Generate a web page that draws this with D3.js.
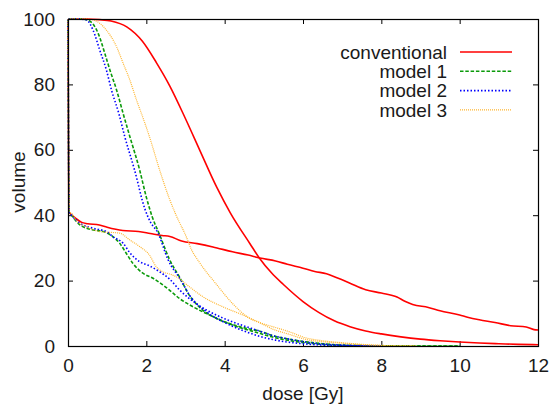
<!DOCTYPE html>
<html>
<head>
<meta charset="utf-8">
<script src="https://cdn.jsdelivr.net/npm/d3@7"></script>
<style>
  html, body { margin: 0; padding: 0; background: #fff; }
  svg { display: block; }
  text { font-family: "Liberation Sans", Arial, Helvetica, sans-serif; fill: #1a1a1a; }
</style>
</head>
<body>
<script>
// ---------- data ----------
const xTicks = [0, 2, 4, 6, 8, 10, 12];
const yTicks = [0, 20, 40, 60, 80, 100];
const seriesNames = ["conventional", "model 1", "model 2", "model 3"];

// conventional: target (upper) and organ-at-risk (lower) DVH curves
const conventionalHigh = [[0,100],[0.5,100],[0.8,99.8],[1.1,99.4],[1.5,97.6],[1.9,93.2],[2.26,86.6],[2.6,79.5],[3.0,69.5],[3.36,60],[3.8,48.5],[4.14,40.8],[4.65,31.2],[4.88,27],[5.2,22.3],[5.5,18.8],[6.0,13.6],[6.4,10.3],[6.8,7.7],[7.2,5.9],[7.6,4.6],[8.0,3.7],[8.5,2.8],[9.0,2.1],[9.5,1.6],[10,1.2],[10.5,0.9],[11,0.7],[11.5,0.5],[12,0.4]];
const conventionalLow = [[0,100],[0.02,41],[0.1,40],[0.2,39],[0.35,37.8],[0.5,37.4],[0.8,37],[1.0,36.3],[1.4,35.3],[1.8,35],[2.1,34.4],[2.4,33.8],[2.6,33.5],[2.9,32.1],[3.3,31.3],[3.7,30.3],[4.2,28.8],[4.6,27.8],[4.9,26.9],[5.3,26],[5.6,25],[6.0,23.8],[6.3,22.8],[6.6,22.1],[6.9,20.7],[7.2,19.2],[7.6,17.2],[8.0,16.2],[8.4,15],[8.6,13.7],[8.8,12.7],[9.2,11.8],[9.5,10.8],[10.0,9.5],[10.2,8.8],[10.5,8.0],[10.9,7.2],[11.3,6.2],[11.7,5.8],[11.9,5],[12,4.9]];

const model1High = [[0,100],[0.3,100],[0.5,99.7],[0.77,95.6],[0.94,89.5],[1.07,84.4],[1.24,78.3],[1.41,71],[1.58,64],[1.83,53.8],[2.0,45.5],[2.15,39.5],[2.34,34],[2.59,26.5],[2.85,21],[3.1,15.5],[3.44,11],[3.78,8.5],[4.2,6.4],[4.8,4.2],[5.2,2.8],[5.9,1.2],[6.5,0.5],[7,0.2],[8,0.05],[9,0],[10,0]];
const model1Low = [[0,100],[0.03,41],[0.09,40],[0.31,37],[0.64,35.5],[0.9,35],[1.15,33.4],[1.32,31.4],[1.49,28.3],[1.66,25.2],[1.92,22.2],[2.17,20.7],[2.42,18.7],[2.59,17.1],[2.85,14.5],[3.19,12],[3.61,9.5],[4.12,6.9],[4.63,5.2],[4.88,4.6],[5.22,3.2],[5.6,2.2],[6.07,1.3],[6.5,0.7],[6.9,0.3],[7.5,0.1],[8,0.05],[10,0]];

const model2High = [[0,100],[0.25,100],[0.47,99.7],[0.64,96.6],[0.81,90.5],[0.98,84.4],[1.11,78.3],[1.3,71],[1.45,64],[1.7,53.8],[1.96,42],[2.1,38],[2.3,34.5],[2.55,26.5],[2.89,20],[3.1,15.6],[3.53,10.5],[4.03,7],[4.63,4],[4.88,3],[5.3,1.8],[5.9,0.8],[6.5,0.3],[7,0.1],[8,0]];
const model2Low = [[0,100],[0.03,41],[0.09,40],[0.31,37.5],[0.64,36],[0.98,35],[1.15,33.4],[1.41,31.4],[1.58,28.5],[1.83,25.8],[2.08,24.5],[2.34,22.7],[2.59,20.5],[2.85,17.1],[3.27,13],[3.78,9.5],[4.29,7],[4.88,4.6],[5.22,3.2],[5.6,2.2],[6.07,1.2],[6.5,0.6],[7,0.3],[7.5,0.1],[8,0]];

const model3High = [[0,100],[0.4,100],[0.64,99.7],[0.98,96.6],[1.24,91.5],[1.41,86.4],[1.58,81.3],[1.75,75.2],[1.92,69.6],[2.08,64],[2.34,53.8],[2.59,45],[2.76,40],[3.02,33.4],[3.14,29.8],[3.36,25.5],[3.78,19],[4.2,13],[4.63,8.5],[4.88,7.2],[5.2,6],[5.64,4.4],[6.07,2.5],[6.5,1.6],[6.92,1.1],[7.5,0.5],[8,0.2],[8.9,0]];
const model3Low = [[0,100],[0.03,41],[0.09,40.6],[0.2,38.5],[0.47,36.5],[0.81,35],[1.32,34.5],[1.58,32.4],[1.83,30.4],[2.08,27.8],[2.25,24.3],[2.42,22.7],[2.6,22],[2.76,21.2],[3.1,18.1],[3.44,15.1],[3.95,12],[4.46,9.5],[4.88,7.2],[5.22,5.2],[5.64,3.6],[6.07,2.0],[6.5,1.3],[6.92,0.9],[7.5,0.4],[8,0.15],[8.9,0]];

// ---------- layout ----------
const W = 553, H = 404;
const margin = { left: 68, right: 15, top: 19, bottom: 58 };
const iw = W - margin.left - margin.right;
const ih = H - margin.top - margin.bottom;

const styles = [
  { color: "#ff0000", width: 1.6, dash: null },
  { color: "#0a9a0a", width: 1.6, dash: "3.5,1.8" },
  { color: "#0000ff", width: 1.6, dash: "1.5,2" },
  { color: "#ffb52e", width: 1.2, dash: "1,1" }
];
const curves = [
  [conventionalHigh, conventionalLow],
  [model1High, model1Low],
  [model2High, model2Low],
  [model3High, model3Low]
];

const svg = d3.select("body").append("svg").attr("width", W).attr("height", H);
const g = svg.append("g").attr("transform", `translate(${margin.left},${margin.top})`);

const x = d3.scaleLinear().domain([0, 12]).range([0, iw]);
const y = d3.scaleLinear().domain([0, 100]).range([ih, 0]);

svg.append("defs").append("clipPath").attr("id", "clip")
  .append("rect").attr("x", -1).attr("y", -1).attr("width", iw + 2).attr("height", ih + 2);

// axes
const fs = 19;
const xAxis = g.append("g").attr("transform", `translate(0,${ih})`)
  .call(d3.axisBottom(x).tickValues(xTicks).tickSize(-5).tickSizeOuter(0).tickPadding(13));
const yAxis = g.append("g")
  .call(d3.axisLeft(y).tickValues(yTicks).tickSize(-5).tickSizeOuter(0).tickPadding(13));
const xTop = g.append("g")
  .call(d3.axisTop(x).tickValues(xTicks).tickSize(-5).tickSizeOuter(0).tickFormat(""));
const yRight = g.append("g").attr("transform", `translate(${iw},0)`)
  .call(d3.axisRight(y).tickValues(yTicks).tickSize(-5).tickSizeOuter(0).tickFormat(""));
[xAxis, yAxis, xTop, yRight].forEach(a => {
  a.select(".domain").remove();
  a.selectAll(".tick line").attr("stroke", "#000").attr("stroke-width", 1);
  a.selectAll("text").style("font-size", fs + "px").attr("fill", "#1a1a1a")
    .style("font-family", '"Liberation Sans", Arial, sans-serif');
});

// curves
const line = d3.line().x(d => x(d[0])).y(d => y(d[1])).curve(d3.curveMonotoneX);
const plot = g.append("g").attr("clip-path", "url(#clip)");
curves.forEach((pair, i) => {
  pair.forEach(data => {
    plot.append("path").datum(data)
      .attr("d", line)
      .attr("fill", "none")
      .attr("stroke", styles[i].color)
      .attr("stroke-width", styles[i].width)
      .attr("stroke-dasharray", styles[i].dash)
      .attr("stroke-linejoin", "round");
  });
});

// frame
g.append("rect").attr("x", 0.5).attr("y", 0.5).attr("width", iw).attr("height", ih)
  .attr("fill", "none").attr("stroke", "#000").attr("stroke-width", 1.2);

// legend
const legend = svg.append("g");
seriesNames.forEach((name, i) => {
  const ly = 52 + i * 19.3;
  legend.append("text").attr("x", 447).attr("y", ly).attr("dy", "0.35em")
    .attr("text-anchor", "end").style("font-size", fs + "px").text(name);
  legend.append("line").attr("x1", 460).attr("x2", 512).attr("y1", ly).attr("y2", ly)
    .attr("stroke", styles[i].color).attr("stroke-width", styles[i].width)
    .attr("stroke-dasharray", styles[i].dash);
});

// axis titles
svg.append("text").attr("x", margin.left + iw / 2).attr("y", 400)
  .attr("text-anchor", "middle").style("font-size", fs + "px").text("dose [Gy]");
svg.append("text").attr("transform", "translate(25,182) rotate(-90)")
  .attr("text-anchor", "middle").style("font-size", fs + "px").text("volume");
</script>
</body>
</html>
